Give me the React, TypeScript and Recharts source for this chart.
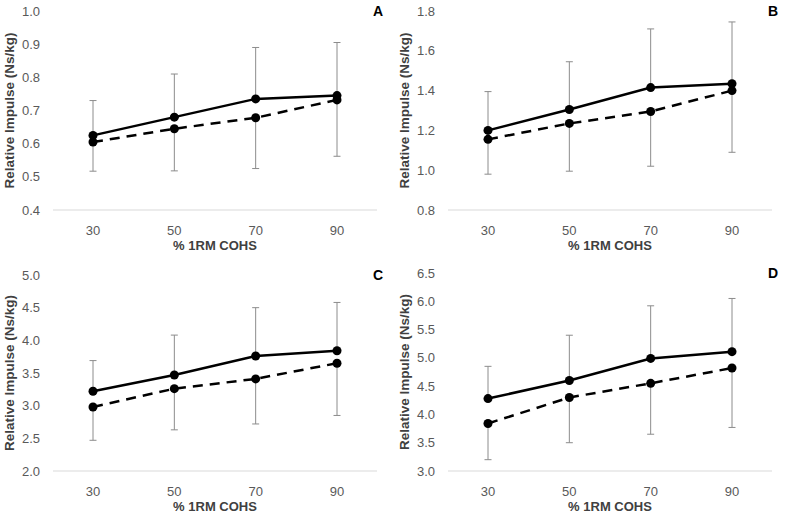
import { LineChart, Line, XAxis, YAxis, CartesianGrid, ErrorBar, Label } from 'recharts'

const loads = ['30', '50', '70', '90']

// panel A
const solidA = [0.625, 0.68, 0.735, 0.745]
const dashedA = [0.605, 0.645, 0.678, 0.732]
const upperA = [0.73, 0.81, 0.89, 0.905]
const lowerA = [0.517, 0.518, 0.525, 0.562]
const ticksA = [0.4, 0.5, 0.6, 0.7, 0.8, 0.9, 1.0]

// panel B
const solidB = [1.2, 1.305, 1.415, 1.435]
const dashedB = [1.155, 1.235, 1.295, 1.4]
const upperB = [1.395, 1.545, 1.71, 1.745]
const lowerB = [0.98, 0.995, 1.02, 1.09]
const ticksB = [0.8, 1.0, 1.2, 1.4, 1.6, 1.8]

// panel C
const solidC = [3.22, 3.47, 3.76, 3.84]
const dashedC = [2.98, 3.26, 3.41, 3.65]
const upperC = [3.69, 4.08, 4.5, 4.58]
const lowerC = [2.47, 2.63, 2.72, 2.85]
const ticksC = [2.0, 2.5, 3.0, 3.5, 4.0, 4.5, 5.0]

// panel D
const solidD = [4.28, 4.6, 4.99, 5.11]
const dashedD = [3.84, 4.3, 4.55, 4.82]
const upperD = [4.85, 5.4, 5.92, 6.05]
const lowerD = [3.2, 3.5, 3.65, 3.77]
const ticksD = [3.0, 3.5, 4.0, 4.5, 5.0, 5.5, 6.0, 6.5]

type Row = {
  load: string
  solid: number
  dashed: number
  solidErr: [number, number]
  dashedErr: [number, number]
}

function buildRows(solid: number[], dashed: number[], upper: number[], lower: number[]): Row[] {
  return loads.map((load, i) => ({
    load,
    solid: solid[i],
    dashed: dashed[i],
    solidErr: [0, upper[i] - solid[i]],
    dashedErr: [dashed[i] - lower[i], 0],
  }))
}

const FONT = '"Liberation Sans", Arial, sans-serif'

interface PanelProps {
  data: Row[]
  ticks: number[]
  letter: string
  left: number
  top: number
  height: number
  marginTop: number
}

function Panel({ data, ticks, letter, left, top, height, marginTop }: PanelProps) {
  const width = 395
  return (
    <div style={{ position: 'absolute', left, top, width, height }}>
      <LineChart width={width} height={height} data={data} margin={{ top: marginTop, right: 18, left: 0, bottom: 0 }}>
        <CartesianGrid horizontal={false} vertical={false} />
        <XAxis
          dataKey="load"
          padding={{ left: 40, right: 40 }}
          axisLine={{ stroke: '#d9d9d9', strokeWidth: 1 }}
          tickLine={false}
          tickMargin={10}
          height={50}
          tick={{ fill: '#595959', fontSize: 13, fontFamily: FONT }}
        >
          <Label
            content={({ viewBox }: any) => (
              <text
                x={viewBox.x + viewBox.width / 2}
                y={viewBox.y + 40}
                textAnchor="middle"
                fill="#404040"
                fontSize={13}
                fontWeight="bold"
                fontFamily={FONT}
              >
                % 1RM COHS
              </text>
            )}
          />
        </XAxis>
        <YAxis
          width={53}
          domain={[ticks[0], ticks[ticks.length - 1]]}
          ticks={ticks}
          interval={0}
          axisLine={false}
          tickLine={false}
          tickMargin={7}
          tickFormatter={(v: number) => v.toFixed(1)}
          tick={{ fill: '#595959', fontSize: 13, fontFamily: FONT }}
        >
          <Label
            content={({ viewBox }: any) => {
              const cy = viewBox.y + viewBox.height / 2
              return (
                <text
                  x={14}
                  y={cy}
                  transform={`rotate(-90, 14, ${cy})`}
                  textAnchor="middle"
                  fill="#404040"
                  fontSize={13.5}
                  fontWeight="bold"
                  fontFamily={FONT}
                >
                  Relative Impulse (Ns/kg)
                </text>
              )
            }}
          />
        </YAxis>
        <Line
          dataKey="dashed"
          stroke="#000"
          strokeWidth={2.5}
          strokeDasharray="10 7"
          dot={{ r: 4.5, fill: '#000', stroke: '#000', strokeWidth: 0 }}
          isAnimationActive={false}
        >
          <ErrorBar dataKey="dashedErr" width={3.5} stroke="#8c8c8c" strokeWidth={1} direction="y" />
        </Line>
        <Line
          dataKey="solid"
          stroke="#000"
          strokeWidth={2.5}
          dot={{ r: 4.5, fill: '#000', stroke: '#000', strokeWidth: 0 }}
          isAnimationActive={false}
        >
          <ErrorBar dataKey="solidErr" width={3.5} stroke="#8c8c8c" strokeWidth={1} direction="y" />
        </Line>
      </LineChart>
      <div
        style={{
          position: 'absolute',
          left: 373,
          top: marginTop - 8,
          fontFamily: FONT,
          fontSize: 14,
          fontWeight: 'bold',
          color: '#000',
        }}
      >
        {letter}
      </div>
    </div>
  )
}

export default function App() {
  return (
    <div style={{ position: 'absolute', left: 0, top: 0, width: 789, height: 521, background: '#fff' }}>
      <Panel data={buildRows(solidA, dashedA, upperA, lowerA)} ticks={ticksA} letter="A" left={0} top={0} height={260} marginTop={11} />
      <Panel data={buildRows(solidB, dashedB, upperB, lowerB)} ticks={ticksB} letter="B" left={395} top={0} height={260} marginTop={11} />
      <Panel data={buildRows(solidC, dashedC, upperC, lowerC)} ticks={ticksC} letter="C" left={0} top={263} height={258} marginTop={12} />
      <Panel data={buildRows(solidD, dashedD, upperD, lowerD)} ticks={ticksD} letter="D" left={395} top={263} height={258} marginTop={10} />
    </div>
  )
}
